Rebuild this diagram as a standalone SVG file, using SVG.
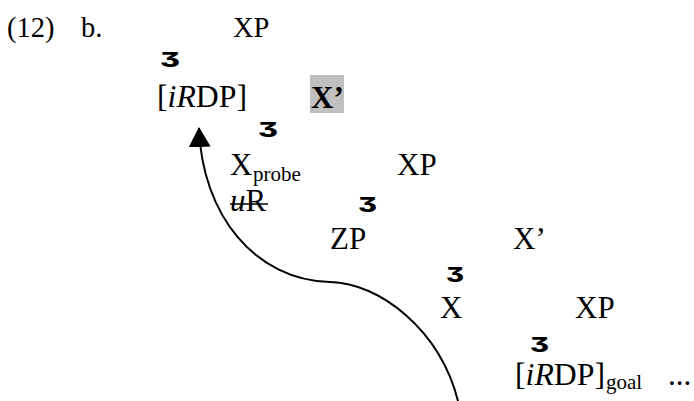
<svg xmlns="http://www.w3.org/2000/svg" width="694" height="401" viewBox="0 0 694 401">
<style>
.h{font-family:"Liberation Serif","Times New Roman",serif;font-size:28.5px;fill:#000}
.t{font-family:"Liberation Serif","Times New Roman",serif;font-size:31px;fill:#000}
.s{font-family:"Liberation Serif","Times New Roman",serif;font-size:21px;fill:#000}
.b{font-family:Inter,"DejaVu Sans",sans-serif;font-weight:800;font-size:20px;fill:#000;font-feature-settings:"cv09"}
.edge{fill:none;stroke:#000;stroke-width:2}
</style>
<defs>
<marker id="arrow" markerUnits="userSpaceOnUse" markerWidth="20" markerHeight="22" viewBox="0 0 20 22" refX="19" refY="11" orient="auto">
<path d="M0,0 L20,11 L0,22 Z" fill="#000"/>
</marker>
</defs>
<rect width="694" height="401" fill="#fff"/>
<g id="label">
<text class="h" x="7" y="37">(12)</text>
<text class="h" x="81" y="37">b.</text>
</g>
<g id="n-xp1"><text class="h" x="233" y="37">XP</text></g>
<g id="b1"><text class="b" x="160" y="67" textLength="20" lengthAdjust="spacingAndGlyphs">3</text></g>
<g id="n-irdp1"><text class="t" x="157" y="107" textLength="90" lengthAdjust="spacingAndGlyphs">[<tspan font-style="italic">iR</tspan>DP]</text></g>
<g id="n-xbar1">
<rect x="310" y="75" width="34" height="38" fill="#c0c0c0"/>
<text class="t" x="311" y="108" font-weight="bold">X’</text>
</g>
<g id="b2"><text class="b" x="258" y="137" textLength="20" lengthAdjust="spacingAndGlyphs">3</text></g>
<g id="n-xprobe">
<text class="t" x="230" y="175">X</text>
<text class="s" x="253" y="181">probe</text>
<text class="t" x="230" y="211"><tspan font-style="italic">u</tspan>R</text>
<line x1="230" y1="204" x2="268" y2="204" stroke="#000" stroke-width="1.5"/>
</g>
<g id="n-xp2"><text class="t" x="397" y="175">XP</text></g>
<g id="b3"><text class="b" x="358" y="212" textLength="19" lengthAdjust="spacingAndGlyphs">3</text></g>
<g id="n-zp"><text class="t" x="330" y="249">ZP</text></g>
<g id="n-xbar2"><text class="t" x="513" y="249">X’</text></g>
<g id="b4"><text class="b" x="446" y="282" textLength="18" lengthAdjust="spacingAndGlyphs">3</text></g>
<g id="n-x"><text class="t" x="440" y="318">X</text></g>
<g id="n-xp3"><text class="t" x="575" y="318">XP</text></g>
<g id="b5"><text class="b" x="530" y="352" textLength="19" lengthAdjust="spacingAndGlyphs">3</text></g>
<g id="n-irdp2">
<text class="t" x="515" y="385" textLength="90" lengthAdjust="spacingAndGlyphs">[<tspan font-style="italic">iR</tspan>DP]</text>
<text class="s" x="606" y="389">goal</text>
<text class="t" x="668" y="385">...</text>
</g>
<g id="connectors">
<path class="edge" d="M 458 401 C 440 330, 380 283, 330 282 C 255 280, 202 215, 199 128" marker-end="url(#arrow)"/>
</g>
</svg>
